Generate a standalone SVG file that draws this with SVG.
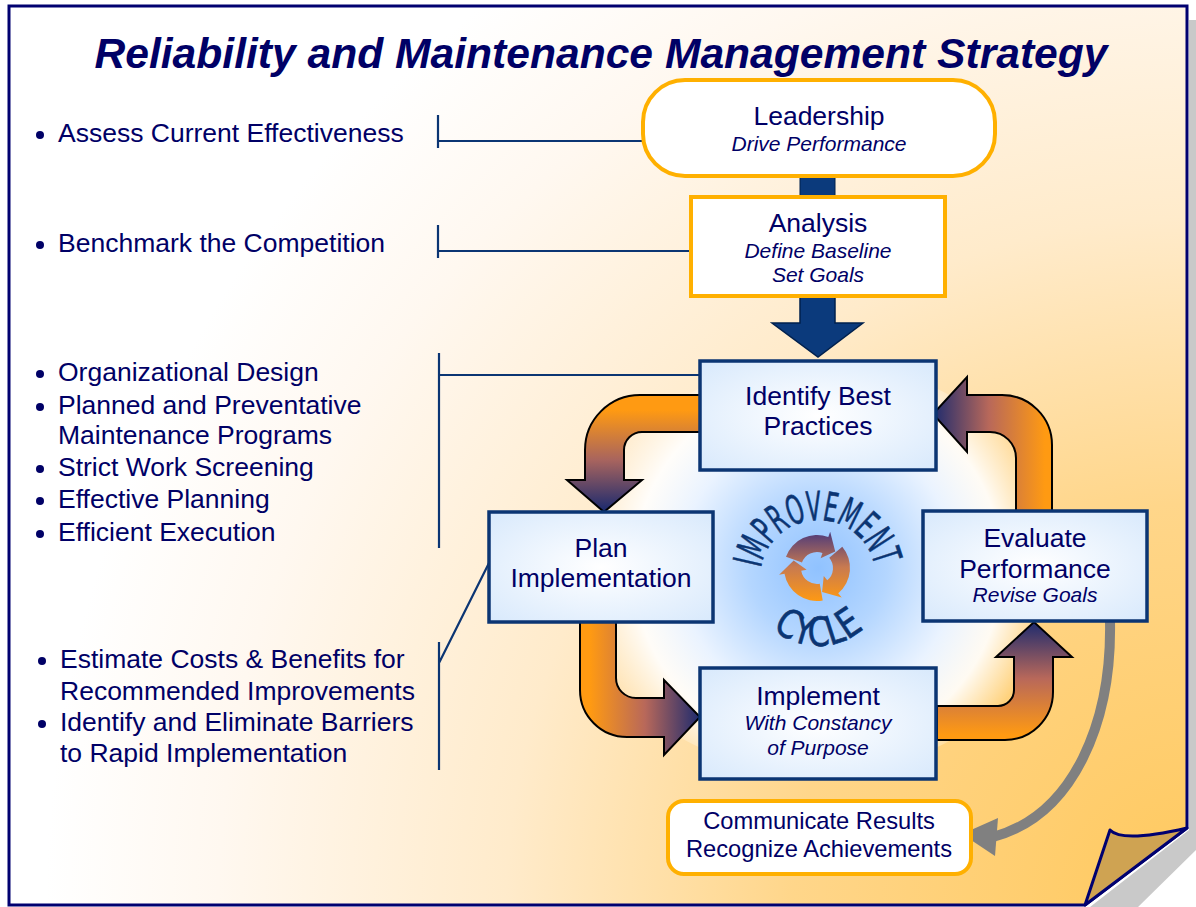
<svg xmlns="http://www.w3.org/2000/svg" width="1196" height="907" viewBox="0 0 1196 907">
<defs>
  <radialGradient id="pageBg" gradientUnits="userSpaceOnUse" cx="1196" cy="907" r="1150">
    <stop offset="0" stop-color="#FFC85C"/>
    <stop offset="0.35" stop-color="#FFD68A"/>
    <stop offset="0.6" stop-color="#FFEBCB"/>
    <stop offset="0.85" stop-color="#FFF8F0"/>
    <stop offset="1" stop-color="#FFFFFF"/>
  </radialGradient>
  <radialGradient id="glow" gradientUnits="userSpaceOnUse" cx="818" cy="568" r="230">
    <stop offset="0" stop-color="#90C2FF"/>
    <stop offset="0.3" stop-color="#B4D6FF"/>
    <stop offset="0.6" stop-color="#EAF3FF"/>
    <stop offset="0.8" stop-color="#FFFFFF" stop-opacity="0.9"/>
    <stop offset="1" stop-color="#FFFFFF" stop-opacity="0"/>
  </radialGradient>
  <radialGradient id="boxFill" cx="0.5" cy="0.5" r="0.7">
    <stop offset="0" stop-color="#FFFFFF"/>
    <stop offset="1" stop-color="#D8E9FC"/>
  </radialGradient>
  <linearGradient id="gTL" gradientUnits="userSpaceOnUse" x1="0" y1="410" x2="0" y2="510">
    <stop offset="0" stop-color="#FF9A12"/>
    <stop offset="0.5" stop-color="#A8645E"/>
    <stop offset="1" stop-color="#1E2B6E"/>
  </linearGradient>
  <linearGradient id="gBL" gradientUnits="userSpaceOnUse" x1="590" y1="0" x2="700" y2="0">
    <stop offset="0" stop-color="#FF9A12"/>
    <stop offset="0.5" stop-color="#B8685A"/>
    <stop offset="1" stop-color="#1E2B6E"/>
  </linearGradient>
  <linearGradient id="gBR" gradientUnits="userSpaceOnUse" x1="0" y1="735" x2="0" y2="622">
    <stop offset="0" stop-color="#FF9A12"/>
    <stop offset="0.5" stop-color="#B8685A"/>
    <stop offset="1" stop-color="#1E2B6E"/>
  </linearGradient>
  <linearGradient id="gTR" gradientUnits="userSpaceOnUse" x1="1045" y1="0" x2="933" y2="0">
    <stop offset="0" stop-color="#FF9A12"/>
    <stop offset="0.5" stop-color="#B8685A"/>
    <stop offset="1" stop-color="#1E2B6E"/>
  </linearGradient>
  <linearGradient id="gIcon" gradientUnits="userSpaceOnUse" x1="0" y1="602" x2="0" y2="532">
    <stop offset="0" stop-color="#FF9A12"/>
    <stop offset="0.5" stop-color="#C87A50"/>
    <stop offset="1" stop-color="#4E3A7A"/>
  </linearGradient>
  <path id="arcTop" d="M 760.9,567.9 A 58,58 0 0 1 874.7,565.9"/>
  <path id="arcBot" d="M 772.5,628.5 A 68,68 0 0 0 863.5,628.5"/>
  <style>
    .txt { font-family: "Liberation Sans", Arial, sans-serif; fill: #000066; }
    .big { font-size: 26.5px; }
    .it { font-size: 21px; font-style: italic; }
    .mid { text-anchor: middle; }
    .blt { fill: #000066; }
    .box { fill: url(#boxFill); stroke: #0B3573; stroke-width: 3.5; }
    .obox { fill: #FFFFFF; stroke: #FFB000; stroke-width: 4; }
    .link { stroke: #0B3573; stroke-width: 2.2; fill: none; }
    .orarrow { stroke: #000000; stroke-width: 2; stroke-linejoin: miter; }
    .hand { font-family: "DejaVu Sans Condensed", "Liberation Sans Narrow", sans-serif; fill: #0B3573; stroke: #0B3573; stroke-width: 0.6; font-size: 40px; }
  </style>
</defs>

<!-- page -->
<polygon points="1189,20 1196,20 1196,850 1138,907 1090,907 1189,830" fill="#C9C9C9"/>
<polygon points="9,6 1187,6 1187,828 1085,905 9,905" fill="url(#pageBg)" stroke="#000070" stroke-width="3" stroke-linejoin="miter"/>
<path d="M1110,830 Q1122,843 1187,828 L1085,905 Z" fill="#CFA352" stroke="#000070" stroke-width="3" stroke-linejoin="round"/>

<!-- central glow -->
<ellipse cx="818" cy="568" rx="245" ry="205" fill="url(#glow)"/>

<!-- title -->
<text class="txt mid" x="601" y="68" font-size="42.5" font-weight="bold" font-style="italic" textLength="1013" lengthAdjust="spacingAndGlyphs">Reliability and Maintenance Management Strategy</text>

<!-- left bullet texts -->
<g id="list-assess">
  <circle class="blt" cx="40" cy="135" r="4"/>
  <text class="txt big" x="58" y="142">Assess Current Effectiveness</text>
</g>
<g id="list-benchmark">
  <circle class="blt" cx="40" cy="245" r="4"/>
  <text class="txt big" x="58" y="252">Benchmark the Competition</text>
</g>
<g id="list-best">
  <circle class="blt" cx="40" cy="374" r="4"/>
  <text class="txt big" x="58" y="381">Organizational Design</text>
  <circle class="blt" cx="40" cy="407" r="4"/>
  <text class="txt big" x="58" y="414">Planned and Preventative</text>
  <text class="txt big" x="58" y="444">Maintenance Programs</text>
  <circle class="blt" cx="40" cy="469" r="4"/>
  <text class="txt big" x="58" y="476">Strict Work Screening</text>
  <circle class="blt" cx="40" cy="501" r="4"/>
  <text class="txt big" x="58" y="508">Effective Planning</text>
  <circle class="blt" cx="40" cy="534" r="4"/>
  <text class="txt big" x="58" y="541">Efficient Execution</text>
</g>
<g id="list-plan">
  <circle class="blt" cx="42" cy="661" r="4"/>
  <text class="txt big" x="60" y="668">Estimate Costs &amp; Benefits for</text>
  <text class="txt big" x="60" y="700">Recommended Improvements</text>
  <circle class="blt" cx="42" cy="724" r="4"/>
  <text class="txt big" x="60" y="731">Identify and Eliminate Barriers</text>
  <text class="txt big" x="60" y="762">to Rapid Implementation</text>
</g>

<!-- connectors -->
<g id="connectors">
  <path class="link" d="M438,115 V148 M438,141 H642"/>
  <path class="link" d="M438,225 V258 M438,251 H691"/>
  <path class="link" d="M439,353 V548 M439,375 H700"/>
  <path class="link" d="M439,642 V770 M439,663 L489,563"/>
  <!-- navy flow arrows -->
  <rect x="800" y="174" width="35" height="25" fill="#0B3A7C" stroke="#00204D" stroke-width="1"/>
  <path d="M800,296 L835,296 L835,323 L863,323 L818,357 L772,323 L800,323 Z" fill="#0B3A7C" stroke="#00204D" stroke-width="1.5"/>
  <!-- cycle arrows -->
  <path class="orarrow" fill="url(#gTL)" d="M700,395 L640,395 A55,55 0 0 0 585,450 L585,480 L567,480 L604,512 L642,480 L624,480 L624,450 A18,18 0 0 1 642,432 L700,432 Z"/>
  <path class="orarrow" fill="url(#gBL)" d="M580,622 L580,690 A47,47 0 0 0 627,737 L664,737 L664,755 L700,717 L664,680 L664,698 L636,698 A20,20 0 0 1 616,678 L616,622 Z"/>
  <path class="orarrow" fill="url(#gBR)" d="M937,740 L1005,740 A48,48 0 0 0 1053,692 L1053,657 L1072,657 L1034,622 L996,657 L1014,657 L1014,690 A16,16 0 0 1 998,706 L937,706 Z"/>
  <path class="orarrow" fill="url(#gTR)" d="M1052,512 L1052,445 A50,50 0 0 0 1002,395 L967,395 L967,377 L933,414 L967,452 L967,432 L990,432 A26,26 0 0 1 1016,458 L1016,512 Z"/>
  <!-- gray arrow -->
  <path d="M1110,621 C1112,720 1075,815 993,837" fill="none" stroke="#808080" stroke-width="10"/>
  <polygon points="962,834 998,818 995,856" fill="#808080"/>
</g>

<!-- nodes -->
<g id="leadership">
  <rect class="obox" x="643" y="80" width="352" height="96" rx="42" ry="42"/>
  <text class="txt big mid" x="819" y="125">Leadership</text>
  <text class="txt it mid" x="819" y="151">Drive Performance</text>
</g>
<g id="analysis">
  <rect class="obox" x="691" y="197" width="254" height="99"/>
  <text class="txt big mid" x="818" y="232">Analysis</text>
  <text class="txt it mid" x="818" y="258">Define Baseline</text>
  <text class="txt it mid" x="818" y="282">Set Goals</text>
</g>
<g id="identify">
  <rect class="box" x="700" y="361" width="236" height="109"/>
  <text class="txt big mid" x="818" y="405">Identify Best</text>
  <text class="txt big mid" x="818" y="435">Practices</text>
</g>
<g id="plan">
  <rect class="box" x="489" y="512" width="224" height="110"/>
  <text class="txt big mid" x="601" y="557">Plan</text>
  <text class="txt big mid" x="601" y="587">Implementation</text>
</g>
<g id="evaluate">
  <rect class="box" x="923" y="511" width="224" height="110"/>
  <text class="txt big mid" x="1035" y="547">Evaluate</text>
  <text class="txt big mid" x="1035" y="578">Performance</text>
  <text class="txt it mid" x="1035" y="602">Revise Goals</text>
</g>
<g id="implement">
  <rect class="box" x="700" y="668" width="236" height="111"/>
  <text class="txt big mid" x="818" y="705">Implement</text>
  <text class="txt it mid" x="818" y="730">With Constancy</text>
  <text class="txt it mid" x="818" y="755">of Purpose</text>
</g>
<g id="communicate">
  <rect class="obox" x="668" y="801" width="303" height="73" rx="16" ry="16"/>
  <text class="txt mid" x="819" y="829" font-size="23.7">Communicate Results</text>
  <text class="txt mid" x="819" y="857" font-size="23.7">Recognize Achievements</text>
</g>

<!-- improvement cycle label -->
<g id="improvement-cycle">
  <text class="hand"><textPath href="#arcTop" textLength="160" lengthAdjust="spacingAndGlyphs">IMPROVEMENT</textPath></text>
  <text class="hand"><textPath href="#arcBot" textLength="100" lengthAdjust="spacingAndGlyphs">CYCLE</textPath></text>
  <g fill="url(#gIcon)">
    <path d="M785.99,556.71 A33,33 0 0 1 828.29,536.99 L830.17,531.82 L835.21,551.61 L820.59,558.13 L822.47,552.96 A16,16 0 0 0 801.96,562.53 Z"/>
    <path d="M842.28,546.79 A33,33 0 0 1 838.21,593.28 L841.75,597.49 L822.09,591.96 L823.75,576.04 L827.28,580.26 A16,16 0 0 0 829.26,557.72 Z"/>
    <path d="M822.73,600.5 A33,33 0 0 1 784.5,573.73 L779.09,574.68 L793.70,560.43 L806.66,569.82 L801.24,570.78 A16,16 0 0 0 819.78,583.76 Z"/>
  </g>
</g>
</svg>
